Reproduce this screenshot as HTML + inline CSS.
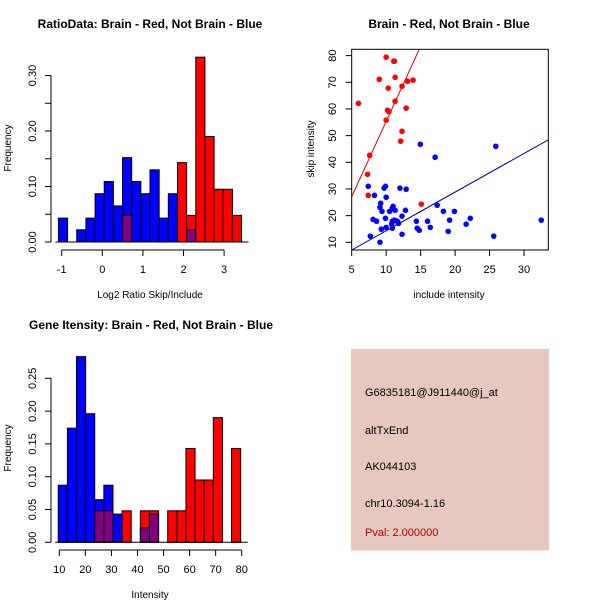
<!DOCTYPE html>
<html><head><meta charset="utf-8"><style>
body{margin:0;background:#fff}
svg{display:block;font-family:"Liberation Sans",sans-serif}
</style></head><body>
<svg id="c" width="600" height="600" viewBox="0 0 600 600" xmlns="http://www.w3.org/2000/svg">
<rect x="351" y="349" width="198" height="201.5" fill="#E6C8C1"/>
<g font-size="11" fill="#000">
<text x="365" y="396">G6835181@J911440@j_at</text>
<text x="365" y="434">altTxEnd</text>
<text x="365" y="470">AK044103</text>
<text x="365" y="507">chr10.3094-1.16</text>
<text x="365" y="536" fill="#B00000">Pval: 2.000000</text>
</g>
</svg>
<script>
// ---- data ----
const ratioBinStart = -1.08, ratioBinWidth = 0.2255;
const ratioBlue = [0.043,0,0.022,0.043,0.087,0.109,0.065,0.152,0.109,0.087,0.130,0.043,0.087,0,0.022,0,0,0,0,0];
const ratioRed  = [0,0,0,0,0,0,0,0.048,0,0,0,0,0,0.143,0.048,0.333,0.190,0.095,0.095,0.048];
const ratioYTicks = [0,0.05,0.10,0.15,0.20,0.25,0.30];
const ratioYLabels = ["0.00","","0.10","","0.20","","0.30"];
const ratioXTicks = [-1,0,1,2,3];

const intBinStart = 9.6, intBinWidth = 3.5;
const intBlue = [0.087,0.174,0.283,0.196,0.065,0.087,0.043,0,0,0.022,0.043,0,0,0,0,0,0,0,0,0];
const intRed  = [0,0,0,0,0.048,0.048,0,0.048,0,0.048,0.048,0,0.048,0.048,0.143,0.095,0.095,0.190,0,0.143];
const intYTicks = [0,0.05,0.10,0.15,0.20,0.25];
const intYLabels = ["0.00","0.05","0.10","0.15","0.20","0.25"];
const intXTicks = [10,20,30,40,50,60,70,80];

const redX = [5.97,10.0,11.1,11.2,9.0,11.3,10.3,12.3,13.1,13.9,11.3,10.2,10.4,12.9,10.0,12.3,12.1,7.6,7.3,7.4,15.1];
const redY = [62.1,79.4,77.9,77.9,71.1,71.9,67.8,68.5,70.4,70.8,62.9,59.5,59.0,60.3,55.8,51.6,47.9,42.6,35.5,27.6,24.3];
const blueX = [14.96,25.9,17.1,7.4,9.9,9.7,12.0,12.9,8.3,10.0,9.2,9.1,11.0,10.9,9.4,10.5,11.3,12.8,17.4,18.3,19.9,12.3,8.1,8.6,9.9,11.2,11.6,10.9,11.8,10.8,14.38,16.0,19.2,22.2,21.6,10.0,10.9,14.5,14.8,16.4,9.3,19.0,12.3,7.7,25.6,32.5,9.1];
const blueY = [46.75,46,41.9,31,31,30.3,30.3,29.9,27.6,26.9,24.6,23.1,23.5,22.8,21.6,21.6,22,22,23.9,21.6,21.6,19.8,18.6,17.9,19,18.3,17.9,17.9,17.1,16.8,17.9,17.9,18.3,19,16.8,15.6,15.3,15.3,14.5,15.6,14.9,14.1,13,12.3,12.3,18.3,10];
const redFit = [-1.1, 5.64];   // intercept, slope
const blueFit = [-0.15, 1.449];
const scXTicks = [5,10,15,20,25,30];
const scYTicks = [10,20,30,40,50,60,70,80];

// ---- drawing ----
const svg = document.getElementById('c');
const NS = 'http://www.w3.org/2000/svg';
function mk(tag, at, parent){const e=document.createElementNS(NS,tag);for(const k in at)e.setAttribute(k,at[k]);(parent||svg).appendChild(e);return e;}
function txt(x,y,s,at){const e=mk('text',Object.assign({x:x,y:y,'font-size':11,'text-anchor':'middle'},at||{}));e.textContent=s;return e;}

function hist(o){
  const sx=v=>o.x0+(v-o.v0)*o.kx, sy=v=>o.y0-v*o.ky;
  const g=mk('g',{});
  
  
  for(let i=0;i<o.blue.length;i++){
    const a=o.start+i*o.w, xa=sx(a), xb=sx(a+o.w);
    const b=o.blue[i], r=o.red[i];
    const draw=(h,fill,nm)=>{ if(h<=0)return; const e=mk('rect',{x:xa,y:sy(h),width:xb-xa,height:sy(0)-sy(h),fill:fill,stroke:'#000','stroke-width':1},g);
      
       };
    if(b>=r){draw(b,'#0000FF','bar-blue');draw(r,'#800080','bar-overlap');}
    else{draw(r,'#FF0000','bar-red');draw(b,'#800080','bar-overlap');}
  }
  const ya=mk('g',{});
  
  
  const yt=o.yticks;
  mk('line',{x1:o.yax,x2:o.yax,y1:sy(yt[0]),y2:sy(yt[yt.length-1]),stroke:'#000'},ya);
  yt.forEach((t,i)=>{mk('line',{x1:o.yax-6,x2:o.yax,y1:sy(t),y2:sy(t),stroke:'#000'},ya);
    if(o.ylabels[i]){const lx=o.yax-15;const e=txt(lx,sy(t),o.ylabels[i],{transform:`rotate(-90 ${lx} ${sy(t)})`});ya.appendChild(e);
      }});
  const xa=mk('g',{});
  
  
  const xt=o.xticks;
  mk('line',{x1:sx(xt[0]),x2:sx(xt[xt.length-1]),y1:o.xay,y2:o.xay,stroke:'#000'},xa);
  xt.forEach(t=>{mk('line',{x1:sx(t),x2:sx(t),y1:o.xay,y2:o.xay+6,stroke:'#000'},xa);
    const e=txt(sx(t),o.xay+23,String(t));xa.appendChild(e);
    });
  mk('line',{x1:sx(o.start)-3,x2:sx(o.start+o.w*o.blue.length)+7,y1:sy(0),y2:sy(0),stroke:'#000'},g);
}

hist({name:'ratio-histogram',blue:ratioBlue,red:ratioRed,start:ratioBinStart,w:ratioBinWidth,
  x0:61.7,v0:-1,kx:40.6,y0:242,ky:555,yticks:ratioYTicks,ylabels:ratioYLabels,xticks:ratioXTicks,yax:51,xay:250});
hist({name:'intensity-histogram',blue:intBlue,red:intRed,start:intBinStart,w:intBinWidth,
  x0:59.3,v0:10,kx:2.606,y0:542.3,ky:656,yticks:intYTicks,ylabels:intYLabels,xticks:intXTicks,yax:51,xay:550});

(function(){
  const sx=v=>351.7+(v-5)*6.894, sy=v=>242.3-(v-10)*2.667;
  const g=mk('g',{});
  
  
  const clip=mk('clipPath',{id:'sc'});mk('rect',{x:351.7,y:49.3,width:196.6,height:200.7},clip);
  function line(f,color,nm){const e=mk('line',{x1:sx(5),y1:sy(f[0]+f[1]*5),x2:sx(33.5),y2:sy(f[0]+f[1]*33.5),stroke:color,'clip-path':'url(#sc)'},g);
    }
  line(redFit,'#DD0000','red-fit-line');
  line(blueFit,'#0000AA','blue-fit-line');
  redX.forEach((x,i)=>{const e=mk('circle',{cx:sx(x),cy:sy(redY[i]),r:2.8,fill:'#FF0000'},g);
    });
  blueX.forEach((x,i)=>{const e=mk('circle',{cx:sx(x),cy:sy(blueY[i]),r:2.8,fill:'#0000FF'},g);
    });
  const box=mk('rect',{x:351.7,y:49.3,width:196.6,height:200.7,fill:'none',stroke:'#000'},g);
  
  scXTicks.forEach(t=>{mk('line',{x1:sx(t),x2:sx(t),y1:250,y2:256,stroke:'#000'});
    const e=txt(sx(t),273,String(t));});
  scYTicks.forEach(t=>{mk('line',{x1:345.7,x2:351.7,y1:sy(t),y2:sy(t),stroke:'#000'});
    const e=txt(336,sy(t),String(t),{transform:`rotate(-90 336 ${sy(t)})`});});
})();

function T(x,y,s,name,at){const e=txt(x,y,s,at);}
T(150,28,'RatioData: Brain - Red, Not Brain - Blue','ratio-title',{'font-weight':'bold','font-size':12});
T(449,28,'Brain - Red, Not Brain - Blue','scatter-title',{'font-weight':'bold','font-size':12});
T(151,329,'Gene Itensity: Brain - Red, Not Brain - Blue','intensity-title',{'font-weight':'bold','font-size':12});
T(150,298,'Log2 Ratio Skip/Include','ratio-x-title',{'font-size':10});
T(449,298,'include intensity','scatter-x-title',{'font-size':10});
T(150,598,'Intensity','intensity-x-title',{'font-size':10});
T(11,148,'Frequency','ratio-y-title',{'font-size':10,transform:'rotate(-90 11 148)'});
T(314,149,'skip intensity','scatter-y-title',{'font-size':10,transform:'rotate(-90 314 149)'});
T(11,448,'Frequency','intensity-y-title',{'font-size':10,transform:'rotate(-90 11 448)'});
</script>
</body></html>
